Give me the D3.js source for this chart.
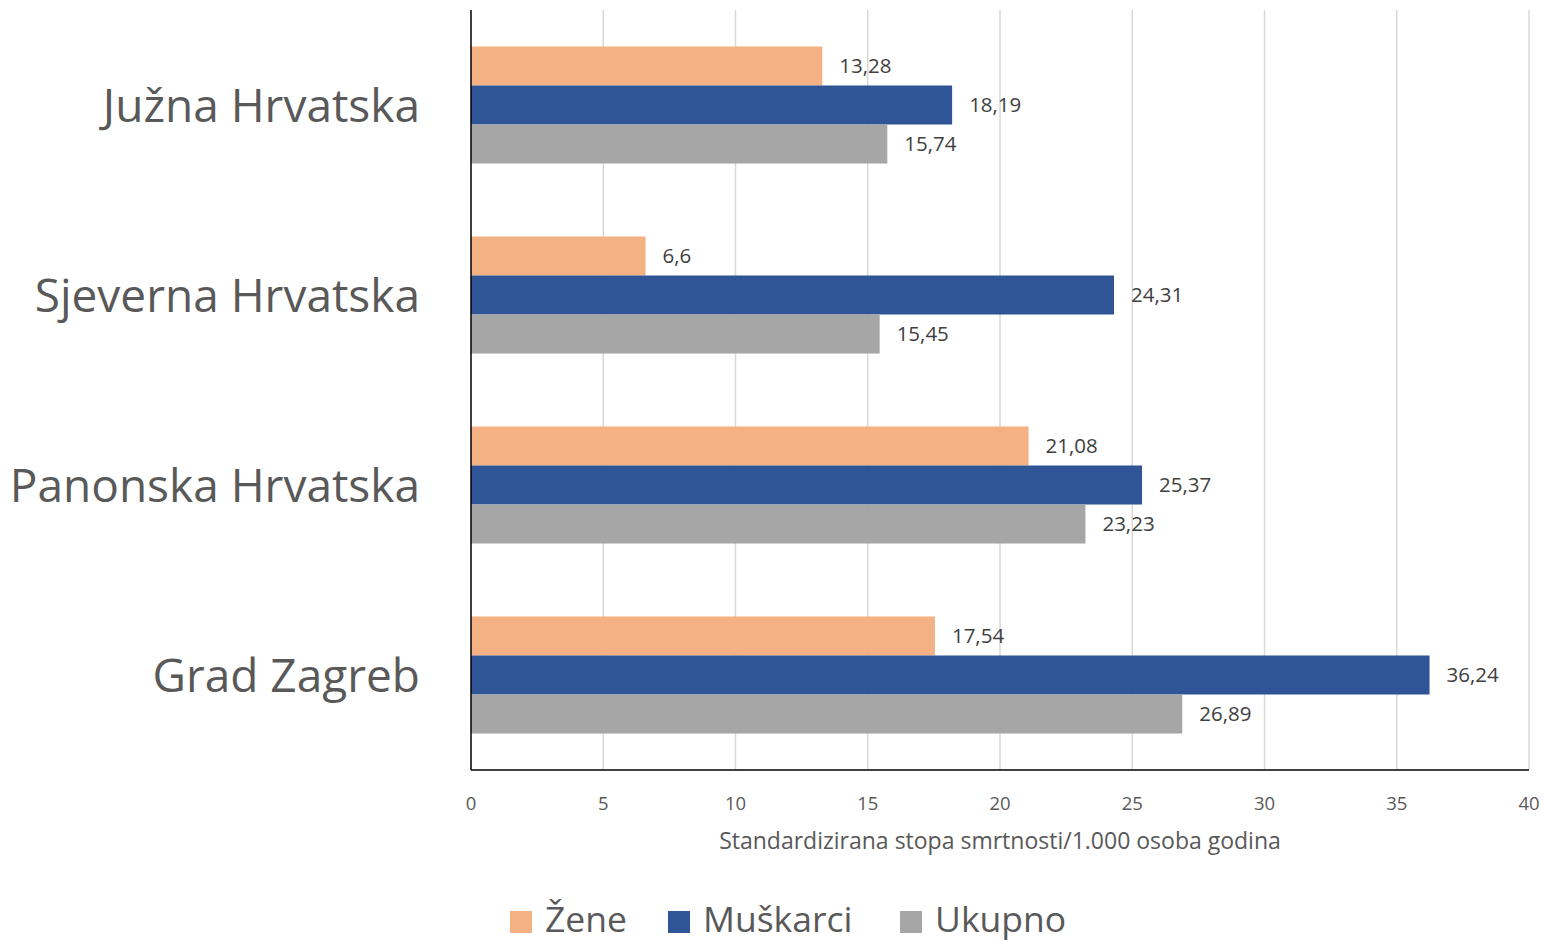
<!DOCTYPE html>
<html>
<head>
<meta charset="utf-8">
<script src="https://cdn.jsdelivr.net/npm/d3@7.9.0/dist/d3.min.js"></script>
<style>
  body { margin: 0; background: #fff; }
  svg { font-family: "Open Sans", sans-serif; }
</style>
</head>
<body>
<svg width="1545" height="941"></svg>
<script>
// data
const regions = ['Južna Hrvatska', 'Sjeverna Hrvatska', 'Panonska Hrvatska', 'Grad Zagreb'];
const seriesNames = ['Žene', 'Muškarci', 'Ukupno'];
const zene = [13.28, 6.6, 21.08, 17.54];
const muskarci = [18.19, 24.31, 25.37, 36.24];
const ukupno = [15.74, 15.45, 23.23, 26.89];
const xTicks = [0, 5, 10, 15, 20, 25, 30, 35, 40];
const colors = ['#f4b183', '#2f5597', '#a6a6a6'];

const seriesVals = [zene, muskarci, ukupno];

let svg = d3.select('svg');
const plotLeft = 471, plotRight = 1529, plotTop = 10, plotBottom = 770;

let x = d3.scaleLinear().domain([0, 40]).range([plotLeft, plotRight]);
let y = d3.scaleBand().domain(regions).range([plotTop, plotBottom]).paddingInner(0.384).paddingOuter(0.192);
let ys = d3.scaleBand().domain(seriesNames).range([0, y.bandwidth()]);

// gridlines
svg.append('g')
  .selectAll('line')
  .data(xTicks.slice(1))
  .join('line')
  .attr('x1', d => x(d)).attr('x2', d => x(d))
  .attr('y1', plotTop).attr('y2', plotBottom)
  .attr('stroke', '#d9d9d9').attr('stroke-width', 1.5);

// bars
regions.forEach((r, i) => {
  let g = svg.append('g').attr('transform', `translate(0,${y(r)})`);
  seriesNames.forEach((s, j) => {
    let v = seriesVals[j][i];
    g.append('rect')
      .attr('x', x(0))
      .attr('y', ys(s))
      .attr('width', x(v) - x(0))
      .attr('height', ys.bandwidth())
      .attr('fill', colors[j]);
    g.append('text')
      .attr('x', x(v) + 17)
      .attr('y', ys(s) + ys.bandwidth() / 2)
      .attr('dy', '0.36em')
      .attr('font-size', 20.5)
      .attr('fill', '#404040')
      .text(String(v).replace('.', ','));
  });
});

// axes lines
svg.append('line')
  .attr('x1', plotLeft).attr('x2', plotLeft).attr('y1', plotTop).attr('y2', plotBottom)
  .attr('stroke', '#000').attr('stroke-width', 1.5);
svg.append('line')
  .attr('x1', plotLeft).attr('x2', plotRight).attr('y1', plotBottom).attr('y2', plotBottom)
  .attr('stroke', '#000').attr('stroke-width', 1.5);

// x tick labels
svg.append('g')
  .selectAll('text')
  .data(xTicks)
  .join('text')
  .attr('x', d => x(d))
  .attr('y', 810)
  .attr('text-anchor', 'middle')
  .attr('font-size', 18.5)
  .attr('fill', '#595959')
  .text(d => d);

// x axis title
svg.append('text')
  .attr('x', (plotLeft + plotRight) / 2)
  .attr('y', 849)
  .attr('text-anchor', 'middle')
  .attr('font-size', 23)
  .attr('fill', '#595959')
  .text('Standardizirana stopa smrtnosti/1.000 osoba godina');

// category labels
svg.append('g')
  .selectAll('text')
  .data(regions)
  .join('text')
  .attr('x', 420)
  .attr('y', d => y(d) + y.bandwidth() / 2)
  .attr('dy', '0.36em')
  .attr('text-anchor', 'end')
  .attr('font-size', 46)
  .attr('fill', '#595959')
  .text(d => d);

// legend
const legendX = [510, 668, 900];
let lg = svg.append('g');
seriesNames.forEach((s, j) => {
  lg.append('rect')
    .attr('x', legendX[j]).attr('y', 911)
    .attr('width', 22).attr('height', 22)
    .attr('fill', colors[j]);
  lg.append('text')
    .attr('x', legendX[j] + 35)
    .attr('y', 932)
    .attr('font-size', 35.5)
    .attr('fill', '#595959')
    .text(s);
});
</script>
</body>
</html>
